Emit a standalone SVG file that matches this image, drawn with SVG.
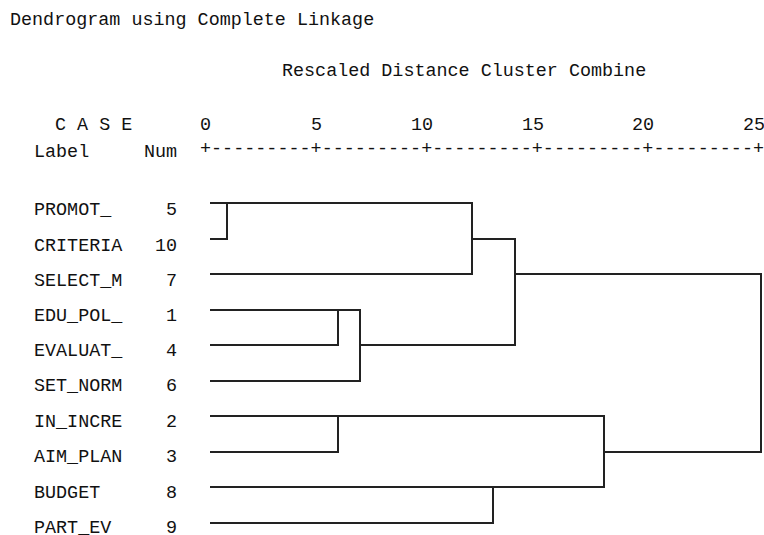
<svg xmlns="http://www.w3.org/2000/svg" width="764" height="535" viewBox="0 0 764 535">
<style>
text{font-family:"Liberation Mono","DejaVu Sans Mono",monospace;font-size:18.4px;fill:#111}
.num{text-anchor:end}
.c{fill:none;stroke:#222;stroke-width:2}
</style>
<rect width="764" height="535" fill="#fff"/>
<g id="header">
<text x="10" y="25">Dendrogram using Complete Linkage</text>
<text x="282" y="76">Rescaled Distance Cluster Combine</text>
<text x="55" y="130" xml:space="preserve">C A S E</text>
<text x="34" y="157">Label</text>
<text x="144" y="157">Num</text>
</g>
<g id="axis">
<text x="200" y="130">0</text>
<text x="311" y="130">5</text>
<text x="411" y="130">10</text>
<text x="522" y="130">15</text>
<text x="632" y="130">20</text>
<text x="743" y="130">25</text>
<text x="200" y="154" textLength="564" lengthAdjust="spacing">+---------+---------+---------+---------+---------+</text>
</g>
<g id="n5"><text x="34" y="215">PROMOT_</text><text class="num" x="177" y="215">5</text></g>
<g id="n10"><text x="34" y="250.5">CRITERIA</text><text class="num" x="177" y="250.5">10</text></g>
<g id="n7"><text x="34" y="286">SELECT_M</text><text class="num" x="177" y="286">7</text></g>
<g id="n1"><text x="34" y="321">EDU_POL_</text><text class="num" x="177" y="321">1</text></g>
<g id="n4"><text x="34" y="356">EVALUAT_</text><text class="num" x="177" y="356">4</text></g>
<g id="n6"><text x="34" y="391">SET_NORM</text><text class="num" x="177" y="391">6</text></g>
<g id="n2"><text x="34" y="427">IN_INCRE</text><text class="num" x="177" y="427">2</text></g>
<g id="n3"><text x="34" y="462">AIM_PLAN</text><text class="num" x="177" y="462">3</text></g>
<g id="n8"><text x="34" y="497.5">BUDGET</text><text class="num" x="177" y="497.5">8</text></g>
<g id="n9"><text x="34" y="532.5">PART_EV</text><text class="num" x="177" y="532.5">9</text></g>
<g id="connectors">
<path class="c" d="M210 203H472V274H210"/>
<path class="c" d="M210 239H227V203"/>
<path class="c" d="M472 239H515V345H360"/>
<path class="c" d="M210 310H360V381H210"/>
<path class="c" d="M210 345H338V310"/>
<path class="c" d="M515 274H761V452H604"/>
<path class="c" d="M210 416H604V487H210"/>
<path class="c" d="M210 452H338V416"/>
<path class="c" d="M493 487V523H210"/>
</g>
</svg>
